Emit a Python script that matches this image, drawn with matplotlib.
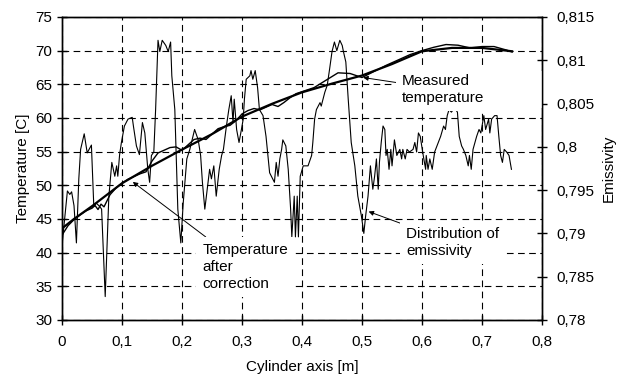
import numpy as np
import matplotlib
matplotlib.use("Agg")
import matplotlib.pyplot as plt
from matplotlib.patches import Rectangle
from matplotlib.ticker import FuncFormatter, MultipleLocator

plt.rcParams['font.family'] = ['Liberation Sans', 'DejaVu Sans']

# smooth temperature curve
x_smooth = [0, 0.02, 0.05, 0.1, 0.15, 0.2, 0.25, 0.3, 0.35, 0.4, 0.45, 0.5,
            0.55, 0.6, 0.65, 0.7, 0.75]
t_smooth = [43.6, 45.0, 46.9, 50.3, 52.9, 55.3, 57.6, 60.2, 62.1, 63.8, 65.1,
            66.3, 68.0, 69.9, 70.4, 70.4, 69.9]

# wiggly temperature curve
x_wiggly = [0, 0.01, 0.02, 0.03, 0.04, 0.05, 0.055, 0.06, 0.065, 0.07, 0.08,
            0.09, 0.1, 0.11, 0.12, 0.13, 0.14, 0.15, 0.16, 0.17, 0.18, 0.19,
            0.2, 0.21, 0.22, 0.23, 0.24, 0.25, 0.26, 0.27, 0.28, 0.29, 0.3,
            0.31, 0.32, 0.33, 0.34, 0.35, 0.36, 0.37, 0.38, 0.39, 0.4, 0.42,
            0.44, 0.46, 0.48, 0.5, 0.52, 0.54, 0.56, 0.58, 0.6, 0.62, 0.64,
            0.66, 0.68, 0.7, 0.72, 0.74, 0.75]
t_wiggly = [42.6, 44.0, 44.9, 45.6, 46.2, 46.6, 47.0, 46.4, 47.2, 46.8, 48.6,
            49.6, 50.3, 50.9, 51.3, 51.7, 52.0, 53.6, 54.8, 55.2, 55.6, 55.7,
            55.2, 56.0, 56.8, 57.0, 56.8, 57.6, 58.4, 58.7, 58.9, 59.6, 60.6,
            61.1, 61.4, 61.2, 61.6, 62.0, 61.7, 62.3, 63.0, 63.6, 63.9, 64.5,
            65.6, 66.7, 66.6, 66.0, 66.9, 67.8, 68.6, 69.4, 70.0, 70.5, 70.9,
            70.8, 70.4, 70.6, 70.6, 70.1, 69.8]

# emissivity distribution
x_eps = [0.0, 0.009, 0.013, 0.016, 0.02, 0.024, 0.028, 0.031, 0.037, 0.042,
         0.049, 0.053, 0.057, 0.063, 0.066, 0.072, 0.078, 0.083, 0.088, 0.091,
         0.093, 0.096, 0.099, 0.104, 0.11, 0.117, 0.119, 0.124, 0.129, 0.134,
         0.138, 0.143, 0.146, 0.149, 0.153, 0.156, 0.16, 0.163, 0.167, 0.173,
         0.177, 0.181, 0.183, 0.188, 0.193, 0.198, 0.202, 0.208, 0.213, 0.221,
         0.227, 0.231, 0.234, 0.238, 0.242, 0.246, 0.249, 0.253, 0.257, 0.262,
         0.266, 0.269, 0.274, 0.278, 0.282, 0.285, 0.287, 0.291, 0.295, 0.299,
         0.302, 0.304, 0.307, 0.313, 0.315, 0.318, 0.322, 0.326, 0.329, 0.335,
         0.34, 0.346, 0.354, 0.357, 0.36, 0.363, 0.366, 0.368, 0.373, 0.377,
         0.381, 0.383, 0.387, 0.389, 0.392, 0.394, 0.397, 0.402, 0.41, 0.416,
         0.418, 0.421, 0.424, 0.43, 0.432, 0.438, 0.442, 0.446, 0.45, 0.454,
         0.458, 0.463, 0.467, 0.469, 0.473, 0.477, 0.482, 0.488, 0.493, 0.499,
         0.503, 0.506, 0.51, 0.514, 0.518, 0.521, 0.524, 0.527, 0.529, 0.532,
         0.535, 0.538, 0.54, 0.542, 0.545, 0.548, 0.55, 0.554, 0.558, 0.563,
         0.566, 0.568, 0.572, 0.575, 0.579, 0.585, 0.588, 0.591, 0.594, 0.597,
         0.602, 0.606, 0.607, 0.61, 0.613, 0.617, 0.621, 0.627, 0.631, 0.636,
         0.639, 0.642, 0.645, 0.649, 0.652, 0.656, 0.659, 0.662, 0.666, 0.669,
         0.673, 0.677, 0.679, 0.682, 0.685, 0.691, 0.695, 0.698, 0.703, 0.706,
         0.711, 0.713, 0.716, 0.721, 0.725, 0.728, 0.731, 0.734, 0.737, 0.741,
         0.745, 0.749]
eps = [0.7886, 0.7949, 0.7945, 0.7948, 0.7932, 0.7889, 0.7963, 0.7997, 0.8015,
       0.7993, 0.8002, 0.7931, 0.7935, 0.7931, 0.7928, 0.7827, 0.7942, 0.7982,
       0.7966, 0.7978, 0.7966, 0.7991, 0.8005, 0.8024, 0.8032, 0.8034, 0.8024,
       0.8001, 0.7991, 0.8028, 0.8016, 0.7974, 0.7959, 0.7990, 0.7994, 0.8043,
       0.8123, 0.8110, 0.8123, 0.8117, 0.8110, 0.8121, 0.8082, 0.8043, 0.7928,
       0.7889, 0.7935, 0.7986, 0.7997, 0.8020, 0.8008, 0.7990, 0.7959, 0.7928,
       0.7951, 0.7974, 0.7963, 0.7978, 0.7943, 0.7974, 0.7990, 0.7997, 0.8024,
       0.8043, 0.8059, 0.8028, 0.8055, 0.8020, 0.8005, 0.8020, 0.8032, 0.8055,
       0.8078, 0.8082, 0.8088, 0.8078, 0.8088, 0.8068, 0.8043, 0.8036, 0.8012,
       0.7970, 0.7959, 0.7982, 0.7966, 0.7986, 0.7997, 0.8008, 0.8001, 0.7974,
       0.7928, 0.7896, 0.7943, 0.7896, 0.7943, 0.7896, 0.7966, 0.7978, 0.7978,
       0.7990, 0.8005, 0.8032, 0.8043, 0.8051, 0.8047, 0.8063, 0.8071, 0.8090,
       0.8110, 0.8121, 0.8111, 0.8123, 0.8117, 0.8110, 0.8098, 0.8055, 0.8005,
       0.7978, 0.7943, 0.7920, 0.7900, 0.7920, 0.7943, 0.7978, 0.7951, 0.7966,
       0.7986, 0.7951, 0.7982, 0.8005, 0.8024, 0.8020, 0.7990, 0.7997, 0.7974,
       0.7997, 0.7978, 0.8008, 0.7990, 0.7997, 0.7986, 0.7997, 0.7986, 0.7997,
       0.7994, 0.7997, 0.8005, 0.7994, 0.8016, 0.8012, 0.7990, 0.7974, 0.7990,
       0.7974, 0.7986, 0.7974, 0.7994, 0.8005, 0.8012, 0.8024, 0.8020, 0.8036,
       0.8043, 0.8040, 0.8043, 0.8043, 0.8040, 0.8012, 0.8001, 0.7997, 0.7990,
       0.7978, 0.7990, 0.7974, 0.7997, 0.8012, 0.8020, 0.8016, 0.8036, 0.8020,
       0.8032, 0.8016, 0.8032, 0.8036, 0.8036, 0.8012, 0.7990, 0.7982, 0.7997,
       0.7994, 0.7990, 0.7974]

x_ticks = [0, 0.1, 0.2, 0.3, 0.4, 0.5, 0.6, 0.7, 0.8]


def comma(v, pos):
    return f"{round(v, 4):g}".replace('.', ',')


fig = plt.figure(figsize=(6.17, 3.76), dpi=100)
ax = fig.add_axes([0.1005, 0.149, 0.778, 0.806])
ax2 = ax.twinx()

# temperature axis on top so the white label boxes hide the grid
ax.set_zorder(ax2.get_zorder() + 1)
ax.patch.set_visible(False)

ax2.plot(x_eps, eps, color='black', lw=0.8)
ax.plot(x_wiggly, t_wiggly, color='black', lw=1.0)
ax.plot(x_smooth, t_smooth, color='black', lw=1.6)

ax.set_xlim(0, 0.8)
ax.set_ylim(30, 75)
ax2.set_ylim(0.78, 0.815)
ax.set_xticks(x_ticks)
ax.yaxis.set_major_locator(MultipleLocator(5))
ax2.yaxis.set_major_locator(MultipleLocator(0.005))
ax.xaxis.set_major_formatter(FuncFormatter(comma))
ax2.yaxis.set_major_formatter(FuncFormatter(comma))

ax.grid(True, color='black', lw=0.8, linestyle=(0, (6, 4)))
for a in (ax, ax2):
    for s in a.spines.values():
        s.set_linewidth(1.0)
ax.tick_params(axis='both', direction='inout', length=7, width=1,
               labelsize=11, colors='black')
ax.tick_params(axis='x', pad=7)
ax2.tick_params(axis='y', direction='inout', length=7, width=1, labelsize=11,
                pad=7)

ax.set_xlabel('Cylinder axis [m]', fontsize=11, labelpad=8)
ax.set_ylabel('Temperature [C]', fontsize=11, labelpad=4)
ax2.set_ylabel('Emissivity', fontsize=11, labelpad=5)

# white area behind the "Measured temperature" label reaching the right edge
ax.add_patch(Rectangle((0.694, 0.70), 0.306, 0.12, transform=ax.transAxes,
                       fc='white', ec='none', zorder=1.8))

box = dict(boxstyle='square,pad=0.4', fc='white', ec='none')
arrow = dict(arrowstyle='-|>', color='black', lw=0.7, mutation_scale=7,
             shrinkA=0, shrinkB=0)

ax.annotate('Measured\ntemperature', xy=(0.502, 66.0), xytext=(0.567, 64.2),
            fontsize=11, va='center', ha='left', linespacing=1.3,
            bbox=box, arrowprops=arrow)
ax.annotate('Temperature\nafter\ncorrection', xy=(0.118, 50.5),
            xytext=(0.234, 37.9), fontsize=11, va='center', ha='left',
            linespacing=1.25, bbox=box, arrowprops=arrow)
ax.annotate('Distribution of\nemissivity', xy=(0.511, 46.1),
            xytext=(0.574, 41.5), fontsize=11, va='center', ha='left',
            linespacing=1.3, bbox=box, arrowprops=arrow)

fig.savefig('out.png', dpi=100)
